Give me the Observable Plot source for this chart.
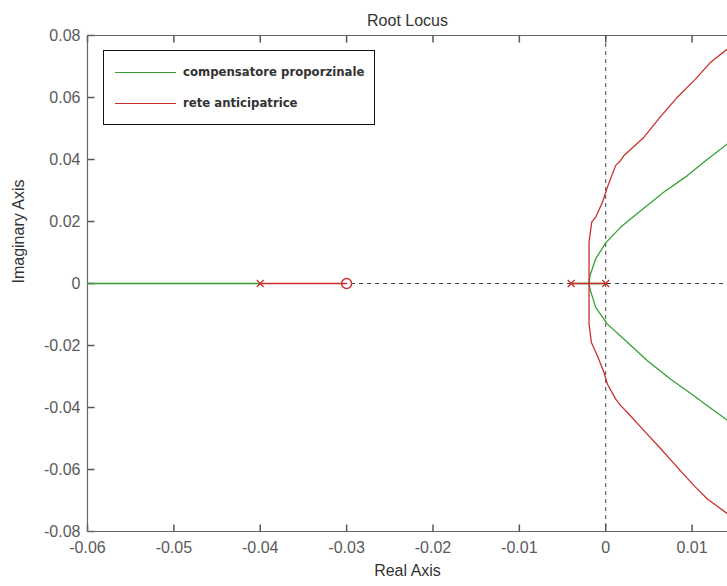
<!DOCTYPE html>
<html>
<head>
<meta charset="utf-8">
<script src="https://cdn.jsdelivr.net/npm/d3@7"></script>
<script src="https://cdn.jsdelivr.net/npm/@observablehq/plot@0.6"></script>
<style>
  html, body { margin: 0; padding: 0; background: #fff; }
  #wrap { position: relative; width: 727px; height: 586px; overflow: hidden; background: #fff; }
  #wrap svg { position: absolute; left: 0; top: 0; }
  .legend { position: absolute; left: 103px; top: 50px; width: 270px; height: 73px;
            border: 1.5px solid #111; background: #fff;
            font-family: "DejaVu Sans Condensed", "DejaVu Sans", sans-serif; font-size: 13px; font-weight: bold; color: #333; }
  .legend .row { position: absolute; left: 0; height: 20px; width: 100%; }
  .legend .sw { position: absolute; left: 11px; width: 61px; height: 0; top: 10px; border-top: 1.3px solid; }
  .legend .lb { position: absolute; left: 79px; top: 2px; white-space: nowrap; }
</style>
</head>
<body>
<div id="wrap"></div>
<script>
// ---- text ----
const title = "Root Locus";
const xLabel = "Real Axis";
const yLabel = "Imaginary Axis";

// ---- axes ----
const xDomain = [-0.06, 0.0141];
const yDomain = [-0.08, 0.08];
const xTicks = [-0.06, -0.05, -0.04, -0.03, -0.02, -0.01, 0, 0.01];
const yTicks = [-0.08, -0.06, -0.04, -0.02, 0, 0.02, 0.04, 0.06, 0.08];

// ---- series ----
const seriesNames = ["compensatore proporzinale", "rete anticipatrice"];

// compensatore proporzinale (green)
const greenRealLeft = [[-0.06, 0], [-0.04, 0]];
const greenRealRight = [[-0.004, 0], [0, 0]];
const greenUpper = [
  [-0.00193, 0], [-0.00182, 0.0026], [-0.00116, 0.0080], [0, 0.0131], [0.00174, 0.0182],
  [0.00405, 0.0235], [0.00675, 0.0295], [0.00946, 0.0348], [0.01138, 0.0392],
  [0.01235, 0.0413], [0.01412, 0.0451]
];
const greenLower = [
  [-0.00193, 0], [-0.00182, -0.0018], [-0.00116, -0.0077], [0.0002, -0.0131], [0.00212, -0.0180],
  [0.00483, -0.0249], [0.00752, -0.0309], [0.01022, -0.0362], [0.01138, -0.0386],
  [0.01293, -0.0418], [0.01412, -0.0442]
];

// rete anticipatrice (red)
const redRealA = [[-0.04, 0], [-0.03, 0]];
const redRealB = [[-0.004, 0], [0, 0]];
const redUpper = [
  [-0.00193, 0], [-0.00193, 0.0133], [-0.00162, 0.0198], [-0.00116, 0.0214], [-0.00038, 0.0262],
  [0.0002, 0.0311], [0.00116, 0.0381], [0.00174, 0.0397], [0.00212, 0.0413], [0.00443, 0.0472],
  [0.00637, 0.0539], [0.0083, 0.0601], [0.01042, 0.0660], [0.01215, 0.0714], [0.01412, 0.0757]
];
const redLower = [
  [-0.00193, 0], [-0.00193, -0.0131], [-0.00166, -0.0190], [-0.00096, -0.0233], [-0.0002, -0.0287],
  [0.0002, -0.0325], [0.00116, -0.0373], [0.00174, -0.0394], [0.00251, -0.0416], [0.00425, -0.0469],
  [0.00637, -0.0533], [0.0083, -0.0593], [0.01022, -0.0652], [0.01177, -0.0695], [0.01412, -0.0743]
];

const poles = [-0.04, -0.004, 0];
const zeros = [-0.03];

// ---- layout / styles ----
const W = 727, H = 586, mL = 87, mR = 0, mT = 35, mB = 55;
const frameW = W - mL - mR, frameH = H - mT - mB, tickLen = 7;
// tick length expressed in data units so that ticks go through the scales
const tickDy = (yDomain[1] - yDomain[0]) * tickLen / frameH;
const tickDx = (xDomain[1] - xDomain[0]) * tickLen / frameW;
const colors = ["#35a035", "#c9302c"];
const axisGray = "#555";
const labelGray = "#5a5a5a";

// ---- build table ----
const branches = [
  [seriesNames[0], "gL", greenRealLeft], [seriesNames[0], "gR", greenRealRight],
  [seriesNames[0], "gU", greenUpper], [seriesNames[0], "gD", greenLower],
  [seriesNames[1], "rA", redRealA], [seriesNames[1], "rB", redRealB],
  [seriesNames[1], "rU", redUpper], [seriesNames[1], "rD", redLower]
];
const rows = [];
for (const [series, branch, pts] of branches)
  for (const [x, y] of pts) rows.push({series, branch, x, y});

const fmt = d => String(Math.round(d * 100) / 100);

const chart = Plot.plot({
  width: W,
  height: H,
  marginLeft: mL,
  marginRight: mR,
  marginTop: mT,
  marginBottom: mB,
  style: {fontFamily: "'Liberation Sans', Arial, sans-serif", fontSize: "16px", background: "#fff"},
  x: {domain: xDomain, label: null},
  y: {domain: yDomain, label: null},
  color: {domain: seriesNames, range: colors},
  marks: [
    // tick labels
    Plot.axisX({anchor: "bottom", ticks: xTicks, tickSize: 0, tickPadding: 10, tickFormat: fmt, fill: labelGray, fontSize: 16, label: null}),
    Plot.axisY({anchor: "left", ticks: yTicks, tickSize: 0, tickPadding: 7, tickFormat: fmt, fill: labelGray, fontSize: 16, label: null}),
    // inward ticks
    Plot.link(xTicks, {x1: d => d, x2: d => d, y1: () => yDomain[0], y2: () => yDomain[0] + tickDy, stroke: axisGray, strokeWidth: 1.5}),
    Plot.link(xTicks, {x1: d => d, x2: d => d, y1: () => yDomain[1], y2: () => yDomain[1] - tickDy, stroke: axisGray, strokeWidth: 1.5}),
    Plot.link(yTicks, {y1: d => d, y2: d => d, x1: () => xDomain[0], x2: () => xDomain[0] + tickDx, stroke: axisGray, strokeWidth: 1.5}),
    // frame
    Plot.ruleY([yDomain[1]], {stroke: "#666", strokeWidth: 1.2}),
    Plot.ruleY([yDomain[0]], {stroke: "#666", strokeWidth: 1.2}),
    Plot.ruleX([xDomain[0]], {stroke: "#666", strokeWidth: 1.2}),
    // zero lines
    Plot.ruleX([0], {stroke: "#444", strokeDasharray: "4,4", strokeWidth: 1}),
    Plot.ruleY([0], {stroke: "#444", strokeDasharray: "4,4", strokeWidth: 1}),
    // loci
    Plot.line(rows, {x: "x", y: "y", z: "branch", stroke: "series", strokeWidth: 1.3, clip: true}),
    // poles & zeros
    Plot.dot(poles, {x: d => d, y: () => 0, symbol: "times", r: 3.2, stroke: colors[1], strokeWidth: 1.3}),
    Plot.dot(zeros, {x: d => d, y: () => 0, symbol: "circle", r: 5, stroke: colors[1], fill: "none", strokeWidth: 1.4}),
    // titles
    Plot.text([title], {frameAnchor: "top", dy: -21, text: d => d, fontSize: 16, fill: "#333"}),
    Plot.text([xLabel], {frameAnchor: "bottom", dy: 44, text: d => d, fontSize: 16, fill: "#333"}),
    Plot.text([yLabel], {frameAnchor: "left", dx: -69, rotate: -90, text: d => d, fontSize: 16, fill: "#333"})
  ]
});

const wrap = document.getElementById("wrap");
wrap.appendChild(chart);

// legend
const legend = document.createElement("div");
legend.className = "legend";
seriesNames.forEach((name, i) => {
  const row = document.createElement("div");
  row.className = "row";
  row.style.top = (11 + i * 31) + "px";
  const sw = document.createElement("div");
  sw.className = "sw";
  sw.style.borderTopColor = colors[i];
  const lb = document.createElement("div");
  lb.className = "lb";
  lb.textContent = name;
  row.appendChild(sw);
  row.appendChild(lb);
  legend.appendChild(row);
});
wrap.appendChild(legend);
</script>
</body>
</html>
